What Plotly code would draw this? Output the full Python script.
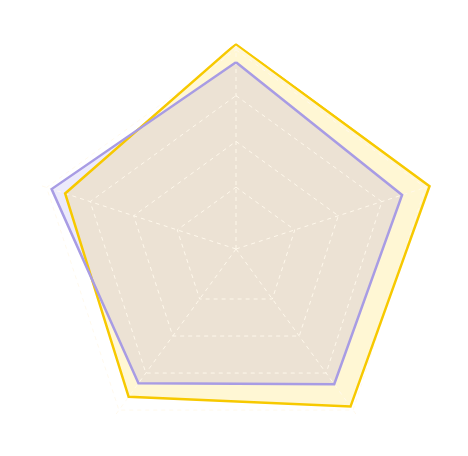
import plotly.graph_objects as go

# axis names (labels are hidden in the chart)
indicators = ["A", "B", "C", "D", "E"]
series_gold = [89.6, 88.9, 85.1, 79.8, 78.5]
series_purple = [81.6, 76.3, 73.0, 72.5, 84.7]
ring_vals = [27, 47, 67, 87]
r_max = 90

series = [
    (series_gold, "rgba(255,205,0,0.17)", "#F7C900"),
    (series_purple, "rgba(65,45,215,0.1)", "#A89CE4"),
]

fig = go.Figure()

# areas first
for vals, fillc, linec in series:
    fig.add_trace(go.Scatterpolar(
        r=vals + vals[:1], theta=indicators + indicators[:1],
        mode="lines", fill="toself", fillcolor=fillc,
        line=dict(color="rgba(0,0,0,0)", width=0), hoverinfo="skip"))

# dashed split lines, light on top of the areas
grid = "rgba(255,249,236,0.95)"
ring_r, ring_t = [], []
for v in ring_vals:
    ring_r += [v] * (len(indicators) + 1) + [None]
    ring_t += indicators + indicators[:1] + [None]
spoke_r, spoke_t = [], []
for ind in indicators:
    spoke_r += [0, r_max, None]
    spoke_t += [ind, ind, None]
fig.add_trace(go.Scatterpolar(r=ring_r + spoke_r, theta=ring_t + spoke_t, mode="lines",
                              line=dict(color=grid, width=1, dash="4px,4px"),
                              hoverinfo="skip", connectgaps=False))

# outlines on top
for vals, fillc, linec in series:
    fig.add_trace(go.Scatterpolar(
        r=vals + vals[:1], theta=indicators + indicators[:1],
        mode="lines", line=dict(color=linec, width=2.5)))

fig.update_layout(
    width=468, height=456,
    margin=dict(l=0, r=0, t=0, b=0),
    paper_bgcolor="white",
    showlegend=False,
    polar=dict(
        domain=dict(x=[22 / 468, 434 / 468], y=[9 / 456, 421 / 456]),
        gridshape="linear",
        bgcolor="rgba(0,0,0,0)",
        radialaxis=dict(range=[0, r_max], showticklabels=False, ticks="",
                        showline=False, showgrid=False),
        angularaxis=dict(rotation=90, direction="clockwise", showticklabels=False,
                         ticks="", showline=False, showgrid=False),
    ),
)

fig.write_html("out.html")
